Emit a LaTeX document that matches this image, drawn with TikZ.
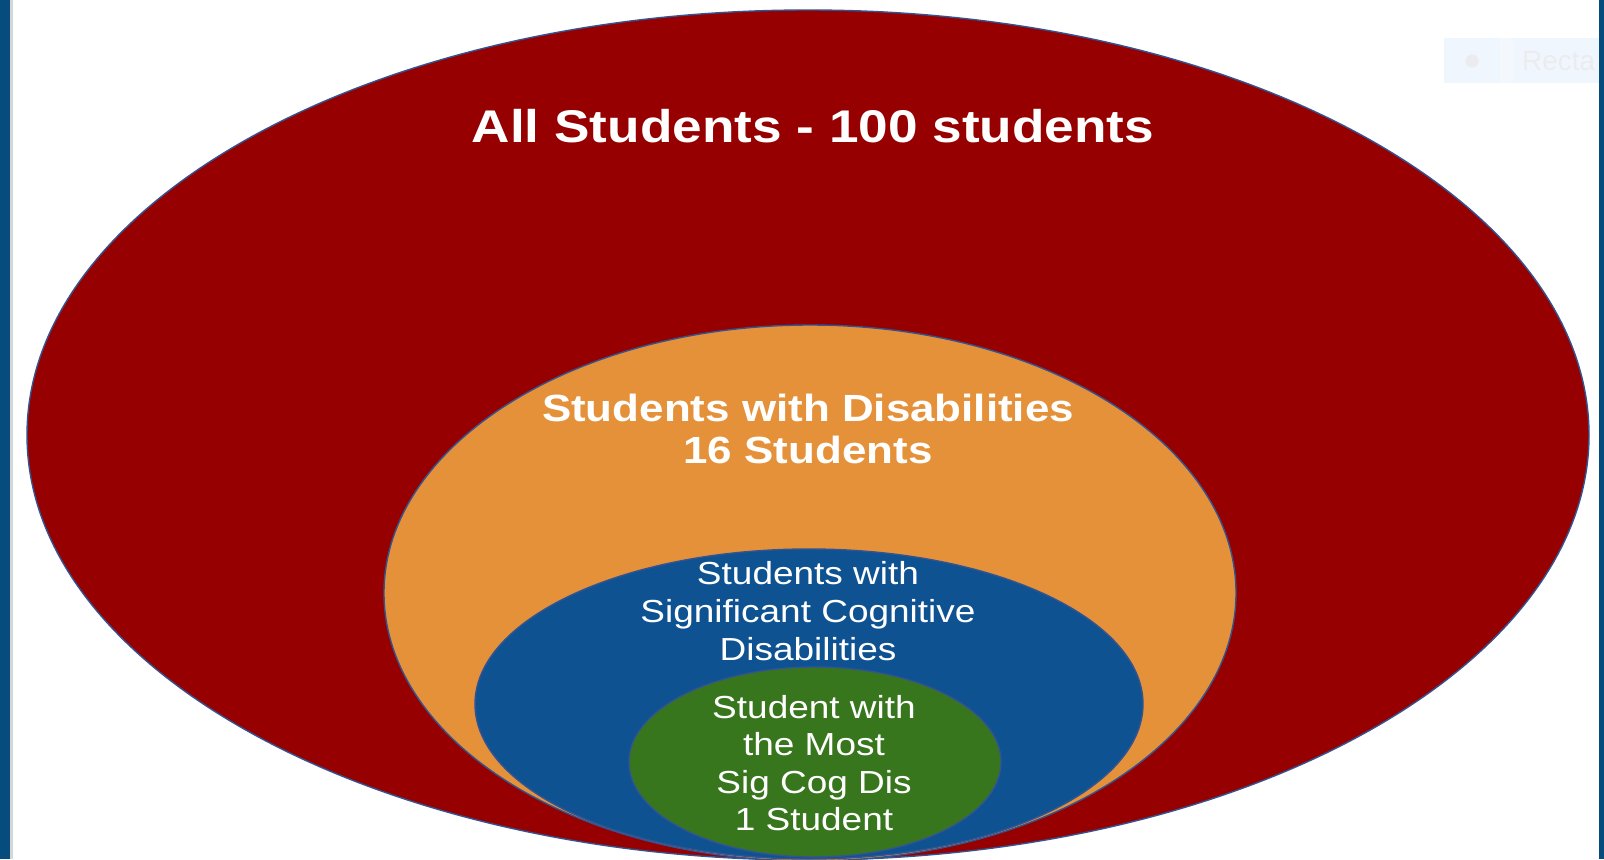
\documentclass[tikz,border=0pt]{standalone}
\usepackage{fontspec}
\setmainfont{Liberation Sans}
\definecolor{frameblue}{RGB}{6,76,125}
\definecolor{edgegrey}{RGB}{214,214,214}
\definecolor{allred}{RGB}{150,0,0}
\definecolor{swdorange}{RGB}{229,145,58}
\definecolor{scdblue}{RGB}{14,82,146}
\definecolor{mostgreen}{RGB}{56,118,29}
\definecolor{rimblue}{RGB}{52,84,145}
\definecolor{tagfill}{RGB}{240,246,253}
\definecolor{tagsplit}{RGB}{244,248,253}
\definecolor{tagtext}{RGB}{236,236,238}
\tikzset{
  ring/.style={draw=rimblue, line width=1.4bp},
  label/.style={text=white, align=center, inner sep=0pt, xscale=1.16, transform shape},
}
\begin{document}
\begin{tikzpicture}[x=1bp,y=-1bp]
  \useasboundingbox (0,0) rectangle (1604,859);
  \fill[white] (0,0) rectangle (1604,859);
  \begin{scope}
    \clip (0,0) rectangle (1604,859);
    % nested groups, outermost first
    \draw[ring, fill=allred]     (808,435) ellipse [x radius=781, y radius=425];
    \draw[ring, fill=swdorange]  (810,593) ellipse [x radius=426, y radius=268];
    \draw[ring, fill=scdblue]    (809,704) ellipse [x radius=334, y radius=155];
    \draw[ring, fill=mostgreen]  (815,762) ellipse [x radius=186, y radius=95];
  \end{scope}

  % labels
  \node[label, font=\bfseries\fontsize{46}{54}\selectfont] (all) at (813,126)
    {All Students - 100 students};
  \node[label, font=\bfseries\fontsize{38}{43}\selectfont] (swd) at (808,429)
    {Students with Disabilities\\16 Students};
  \node[label, font=\fontsize{32}{37.8}\selectfont] (scd) at (808,611)
    {Students with\\Significant Cognitive\\Disabilities};
  \node[label, font=\fontsize{32}{37.5}\selectfont] (most) at (814,763)
    {Student with\\the Most\\Sig Cog Dis\\1 Student};

  % faint tag in the upper right corner
  \fill[tagfill] (1444,38) rectangle (1604,83);
  \fill[tagsplit] (1500,38) rectangle (1513,83);
  \fill[tagtext] (1472,61) circle [radius=6.5];
  \node[anchor=west, text=tagtext, inner sep=0pt, font=\fontsize{28}{32}\selectfont] (tag) at (1522,61) {Recta};

  % window frame strips
  \fill[frameblue] (0,0) rectangle (10,859);
  \fill[edgegrey] (10,0) rectangle (12.5,859);
  \fill[frameblue] (1599,0) rectangle (1604,859);
\end{tikzpicture}
\end{document}
